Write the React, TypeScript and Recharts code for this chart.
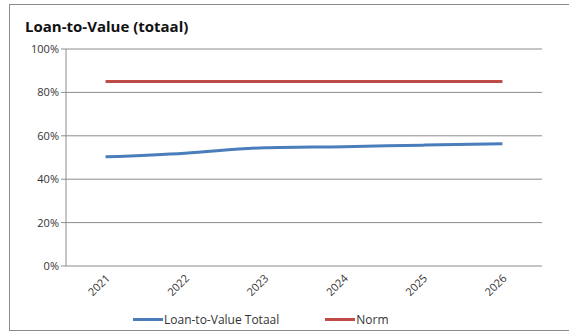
import { LineChart, Line, XAxis, YAxis, CartesianGrid, Legend } from "recharts";

const years = ["2021", "2022", "2023", "2024", "2025", "2026"];
const ltvTotaal = [0.503, 0.52, 0.545, 0.55, 0.557, 0.563];
const norm = [0.85, 0.85, 0.85, 0.85, 0.85, 0.85];
const yTicks = [0, 0.2, 0.4, 0.6, 0.8, 1];
const bandTicks = [0, 1, 2, 3, 4, 5, 6];

const BLUE = "#4A7EBB";
const RED = "#BE4B48";
const GRID = "#8c8c8c";
const FONT = "'Open Sans', 'DejaVu Sans', sans-serif";

const data = years.map((year, i) => ({ year, ltv: ltvTotaal[i], norm: norm[i] }));

function YearTick({ x, y, payload }: any) {
  return (
    <text
      x={x + 5}
      y={y + 5}
      transform={`rotate(-45, ${x + 5}, ${y + 5})`}
      textAnchor="end"
      fontSize={11}
      fill="#333"
      fontFamily={FONT}
    >
      {payload.value}
    </text>
  );
}

function LegendContent() {
  const items = [
    { label: "Loan-to-Value Totaal", color: BLUE },
    { label: "Norm", color: RED },
  ];
  return (
    <div style={{ display: "flex", justifyContent: "flex-start", paddingLeft: 123, fontFamily: FONT, fontSize: 12, color: "#333" }}>
      {items.map((it) => (
        <div key={it.label} style={{ display: "flex", alignItems: "center", marginRight: 46 }}>
          <span style={{ display: "inline-block", width: 30, height: 3, background: it.color, marginRight: 1 }} />
          {it.label}
        </div>
      ))}
    </div>
  );
}

export default function App() {
  return (
    <div
      style={{
        position: "absolute",
        left: 9,
        top: 4,
        width: 575,
        height: 325,
        borderTop: "1px solid #8a8a8a",
        borderLeft: "1px solid #8a8a8a",
        borderBottom: "1px solid #8a8a8a",
        background: "#fff",
      }}
    >
      <div
        style={{
          position: "absolute",
          left: 15,
          top: 11,
          fontFamily: FONT,
          fontWeight: 700,
          fontSize: 15,
          color: "#111",
        }}
      >
        Loan-to-Value (totaal)
      </div>
      <LineChart width={575} height={325} data={data} margin={{ top: 44, right: 43, bottom: 3, left: 0 }}>
        <CartesianGrid horizontal vertical={false} stroke={GRID} yAxisId="y" xAxisId="cat" />
        <XAxis
          xAxisId="band"
          type="number"
          domain={[0, 6]}
          ticks={bandTicks}
          allowDataOverflow
          height={0}
          tick={() => <g />}
          tickSize={4}
          stroke={GRID}
        />
        <XAxis
          xAxisId="cat"
          dataKey="year"
          padding={{ left: 39.6, right: 39.6 }}
          axisLine={false}
          tickLine={false}
          height={45}
          interval={0}
          tick={<YearTick />}
        />
        <YAxis
          yAxisId="y"
          domain={[0, 1]}
          ticks={yTicks}
          width={56}
          tickSize={5}
          stroke={GRID}
          tick={{ fontSize: 11, fill: "#333", fontFamily: FONT }}
          tickFormatter={(v: number) => `${Math.round(v * 100)}%`}
        />
        <Legend verticalAlign="bottom" height={16} content={<LegendContent />} />
        <Line
          xAxisId="cat"
          yAxisId="y"
          type="monotone"
          dataKey="ltv"
          name="Loan-to-Value Totaal"
          stroke={BLUE}
          strokeWidth={3}
          dot={false}
          isAnimationActive={false}
        />
        <Line
          xAxisId="cat"
          yAxisId="y"
          type="linear"
          dataKey="norm"
          name="Norm"
          stroke={RED}
          strokeWidth={3}
          dot={false}
          isAnimationActive={false}
        />
      </LineChart>
    </div>
  );
}
